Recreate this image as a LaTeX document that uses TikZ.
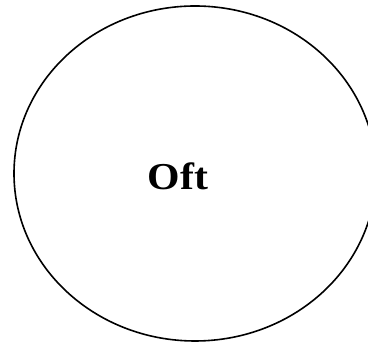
\documentclass[tikz,border=0pt]{standalone}
\usepackage{fontspec}
\setmainfont{Liberation Serif}
\usetikzlibrary{shapes.geometric}
\begin{document}
\begin{tikzpicture}[x=1pt,y=1pt,
  oval/.style={draw=black, line width=1.6pt, ellipse, inner sep=0pt},
  label/.style={font=\bfseries\fontsize{38}{42}\selectfont, inner sep=0pt}]
\clip (0,0) rectangle (368,342);
\useasboundingbox (0,0) rectangle (368,342);
\node[oval, minimum width=362pt, minimum height=335pt] (e) at (195,168.5) {};
\node[label, xscale=1.1] (t) at (178,166) {Oft};
\end{tikzpicture}
\end{document}
